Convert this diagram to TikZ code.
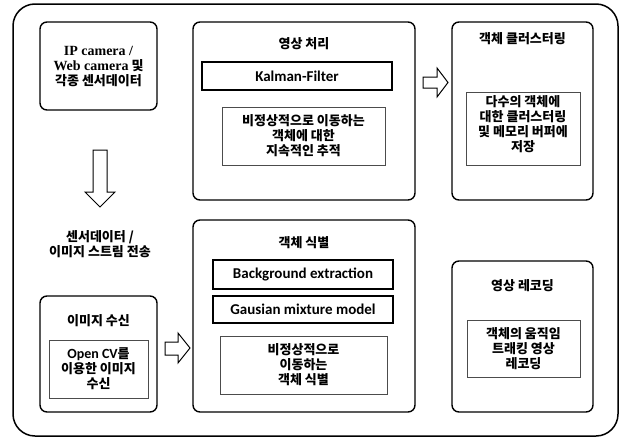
\documentclass[tikz,border=0pt]{standalone}
\usepackage{fontspec}
\newfontfamily\kr{Noto Sans CJK KR}
\newfontfamily\lat{Carlito}
\newfontfamily\ser{Liberation Serif}
\begin{document}
\begin{tikzpicture}[x=1pt,y=-1pt,
  every node/.style={inner sep=0pt, outer sep=0pt},
  txt/.style={align=center, font=\kr\bfseries\fontsize{13}{15}\selectfont},
  ltxt/.style={font=\lat\bfseries\fontsize{15}{15}\selectfont},
  bigbox/.style={draw, line width=1.4pt, rounded corners=7pt, anchor=north west},
  midbox/.style={draw, line width=1.3pt, anchor=north west},
  inbox/.style={draw=black!70, line width=0.7pt, anchor=north west},
  harrow/.style={draw, line width=1pt, fill=white, line join=miter}
]
\useasboundingbox (0,0) rectangle (624,439);
% outer frame
\draw[line width=1.5pt, rounded corners=22pt] (13,4) rectangle (618,436);

% Box A
\node[bigbox, minimum width=117pt, minimum height=88pt] (A) at (40,22) {};
\node[txt] (At) at (98.5,67) {{\ser\fontsize{14}{15}\selectfont IP camera /}\\{\ser\fontsize{14}{15}\selectfont Web camera} 및\\각종 센서데이터};

% Box B
\node[bigbox, minimum width=222pt, minimum height=178pt] (B) at (193,22) {};
\node[txt] (Bt) at (304,44) {영상 처리};
\node[midbox, minimum width=190pt, minimum height=28pt] (B1) at (202,62) {};
\node[ltxt] (B1t) at (B1.center) {Kalman-Filter};
\node[inbox, minimum width=163pt, minimum height=58pt] (B2) at (222,107) {};
\node[txt] (B2t) at (B2.center) {비정상적으로 이동하는\\객체에 대한\\지속적인 추적};

% Box C
\node[bigbox, minimum width=141pt, minimum height=178pt] (C) at (452,22) {};
\node[txt] (Ct) at (522.5,39) {객체 클러스터링};
\node[inbox, minimum width=114pt, minimum height=73pt] (C1) at (466,92) {};
\node[txt] (C1t) at (523,124) {다수의 객체에\\대한 클러스터링\\및 메모리 버퍼에\\저장};

% stream label
\node[txt] (S) at (100,244) {센서데이터 /\\이미지 스트림 전송};

% Box D
\node[bigbox, minimum width=117pt, minimum height=116pt] (D) at (40,296) {};
\node[txt] (Dt) at (98.5,321) {이미지 수신};
\node[inbox, minimum width=99pt, minimum height=58pt] (D1) at (49,340) {};
\node[txt] (D1t) at (D1.center) {{\lat\fontsize{14}{15}\selectfont Open CV}를\\이용한 이미지\\수신};

% Box E
\node[bigbox, minimum width=222pt, minimum height=192pt] (E) at (193,220) {};
\node[txt] (Et) at (304,243) {객체 식별};
\node[midbox, minimum width=180pt, minimum height=29pt] (E1) at (213,260) {};
\node[ltxt] (E1t) at (E1.center) {Background extraction};
\node[midbox, minimum width=180pt, minimum height=27pt] (E2) at (213,296) {};
\node[ltxt] (E2t) at (E2.center) {Gausian mixture model};
\node[inbox, minimum width=167pt, minimum height=58pt] (E3) at (220,336) {};
\node[txt] (E3t) at (E3.center) {비정상적으로\\이동하는\\객체 식별};

% Box F
\node[bigbox, minimum width=141pt, minimum height=151pt] (F) at (452,261) {};
\node[txt] (Ft) at (522.5,286) {영상 레코딩};
\node[inbox, minimum width=113pt, minimum height=57pt] (F1) at (467,320) {};
\node[txt] (F1t) at (F1.center) {객체의 움직임\\트래킹 영상\\레코딩};

% hollow arrows
\draw[harrow] (93,150) -- (107,150) -- (107,192) -- (115,192) -- (100,207) -- (85,192) -- (93,192) -- cycle;
\draw[harrow] (423,77) -- (437,77) -- (437,68) -- (448,82.5) -- (437,97) -- (437,88) -- (423,88) -- cycle;
\draw[harrow] (165,342) -- (178,342) -- (178,333) -- (190,348) -- (178,363) -- (178,355) -- (165,355) -- cycle;
\end{tikzpicture}
\end{document}
